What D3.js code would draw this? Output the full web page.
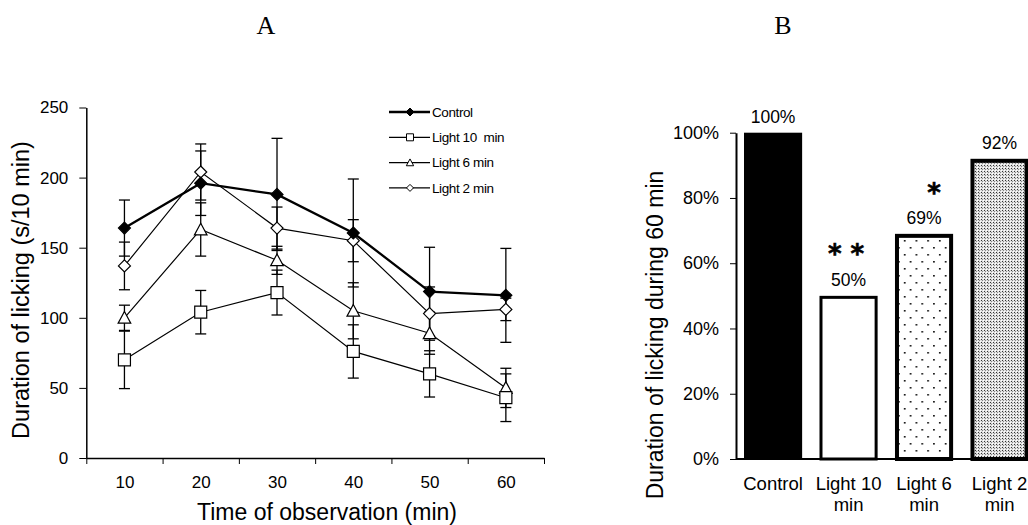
<!DOCTYPE html>
<html>
<head>
<meta charset="utf-8">
<script src="https://cdn.jsdelivr.net/npm/d3@7"></script>
<style>
  body { margin: 0; background: #fff; }
  svg { display: block; font-family: "Liberation Sans", Arial, sans-serif; }
</style>
</head>
<body>
<svg width="1028" height="525"></svg>
<script>
// panel A data: licking time per 10 min block
const times = [10, 20, 30, 40, 50, 60];
const control = [164, 196, 188, 160.5, 118.7, 116];
const controlErr = [20, 23, 40, 38.5, 31.6, 33.5];
const light10 = [70, 104, 118, 76, 60, 43];
const light10Err = [20.5, 15.5, 16, 19, 16.5, 17];
const light6 = [100, 163, 141, 105, 89, 50];
const light6Err = [9, 19, 10, 20, 15, 14];
const light2 = [137, 204, 164, 155, 103, 106];
const light2Err = [17, 20, 15, 15, 19, 8];
const yTicksA = [0, 50, 100, 150, 200, 250];

// panel B data: % of control over 60 min
const barCats = ['Control', 'Light 10 min', 'Light 6 min', 'Light 2 min'];
const barLines = [['Control'], ['Light 10', 'min'], ['Light 6', 'min'], ['Light 2', 'min']];
const barValues = [1.00, 0.50, 0.69, 0.92];
const barStars = ['', '**', '*', ''];
const yTicksB = [0, 0.2, 0.4, 0.6, 0.8, 1.0];

const svg = d3.select('svg');

// patterns for the bars
const defs = svg.append('defs');
const dots = defs.append('pattern').attr('id', 'dots')
  .attr('patternUnits', 'userSpaceOnUse').attr('width', 11.7).attr('height', 14);
dots.append('rect').attr('width', 11.7).attr('height', 14).attr('fill', '#fff');
dots.append('rect').attr('x', 3).attr('y', 2).attr('width', 1.6).attr('height', 1.6).attr('fill', '#000');
dots.append('rect').attr('x', 8.85).attr('y', 9).attr('width', 1.6).attr('height', 1.6).attr('fill', '#000');

const fine = defs.append('pattern').attr('id', 'fine')
  .attr('patternUnits', 'userSpaceOnUse').attr('width', 3).attr('height', 3);
fine.append('rect').attr('width', 3).attr('height', 3).attr('fill', '#e0e0e0');
fine.append('rect').attr('width', 1).attr('height', 1).attr('fill', '#333');
fine.append('rect').attr('x', 1).attr('y', 1).attr('width', 1).attr('height', 1).attr('fill', '#888');
fine.append('rect').attr('x', 2).attr('y', 2).attr('width', 1).attr('height', 1).attr('fill', '#fff');

// ---------- panel A ----------
const x = d3.scaleLinear().domain([5, 65]).range([86.3, 544]);
const y = d3.scaleLinear().domain([0, 250]).range([458, 107.5]);

const gA = svg.append('g');

gA.append('g').attr('transform', `translate(0,${y(0)})`)
  .call(d3.axisBottom(x).tickValues([5, 15, 25, 35, 45, 55, 65]).tickFormat('').tickSizeInner(6).tickSizeOuter(0))
  .call(g => g.select('.domain').attr('stroke-width', 1.5));
gA.append('g').attr('transform', `translate(0,${y(0)})`)
  .call(d3.axisBottom(x).tickValues(times).tickSize(0).tickPadding(18))
  .call(g => g.select('.domain').remove())
  .selectAll('text').attr('font-size', 17).attr('font-family', 'Liberation Sans');

gA.append('g').attr('transform', `translate(${x(5)},0)`)
  .call(d3.axisLeft(y).tickValues(yTicksA).tickSizeInner(7).tickSizeOuter(0).tickPadding(11))
  .call(g => g.select('.domain').attr('stroke-width', 1.5))
  .selectAll('text').attr('font-size', 17).attr('font-family', 'Liberation Sans');

gA.append('text').attr('x', 327).attr('y', 520).attr('text-anchor', 'middle')
  .attr('font-size', 23).text('Time of observation (min)');
gA.append('text').attr('transform', 'translate(29,290) rotate(-90)').attr('text-anchor', 'middle')
  .attr('font-size', 23.5).text('Duration of licking (s/10 min)');

// marker shapes
const shapes = {
  diamond: s => `M0,${-s}L${s},0L0,${s}L${-s},0Z`,
  square: s => `M${-s},${-s}H${s}V${s}H${-s}Z`,
  triangle: s => `M0,${-s * 1.05}L${s * 1.05},${s * 0.9}L${-s * 1.05},${s * 0.9}Z`
};

const series = [
  { name: 'Control', vals: control, err: controlErr, shape: 'diamond', fill: '#000', lw: 2.3, size: 6 },
  { name: 'Light 10  min', vals: light10, err: light10Err, shape: 'square', fill: '#fff', lw: 1.2, size: 6 },
  { name: 'Light 6 min', vals: light6, err: light6Err, shape: 'triangle', fill: '#fff', lw: 1.2, size: 6 },
  { name: 'Light 2 min', vals: light2, err: light2Err, shape: 'diamond', fill: '#fff', lw: 1.2, size: 6 }
];

// error bars
series.forEach(s => {
  const eb = gA.append('g').attr('stroke', '#000').attr('stroke-width', 1.3);
  times.forEach((t, i) => {
    const cx = x(t), lo = y(s.vals[i] - s.err[i]), hi = y(s.vals[i] + s.err[i]);
    eb.append('line').attr('x1', cx).attr('x2', cx).attr('y1', lo).attr('y2', hi);
    eb.append('line').attr('x1', cx - 5.5).attr('x2', cx + 5.5).attr('y1', lo).attr('y2', lo);
    eb.append('line').attr('x1', cx - 5.5).attr('x2', cx + 5.5).attr('y1', hi).attr('y2', hi);
  });
});

const line = d3.line().x((d, i) => x(times[i])).y(d => y(d));
series.slice().reverse().forEach(s => {
  gA.append('path').datum(s.vals).attr('d', line)
    .attr('fill', 'none').attr('stroke', '#000').attr('stroke-width', s.lw);
});
series.slice().reverse().forEach(s => {
  gA.append('g').selectAll('path').data(s.vals).join('path')
    .attr('transform', (d, i) => `translate(${x(times[i])},${y(d)})`)
    .attr('d', shapes[s.shape](s.size))
    .attr('fill', s.fill).attr('stroke', '#000').attr('stroke-width', 1.2);
});

// legend
const leg = gA.append('g');
series.forEach((s, i) => {
  const ly = 112 + i * 25.3;
  leg.append('line').attr('x1', 389).attr('x2', 430).attr('y1', ly).attr('y2', ly)
    .attr('stroke', '#000').attr('stroke-width', s.lw);
  leg.append('path').attr('transform', `translate(410,${ly})`)
    .attr('d', shapes[s.shape](i === 0 ? 4 : 3.5))
    .attr('fill', s.fill).attr('stroke', '#000').attr('stroke-width', 1);
  leg.append('text').attr('x', 432).attr('y', ly).attr('dy', '0.35em')
    .attr('font-size', 13.5).attr('letter-spacing', -0.4).attr('xml:space', 'preserve').text(s.name);
});

svg.append('text').attr('x', 266).attr('y', 34).attr('text-anchor', 'middle')
  .attr('font-family', 'Liberation Serif').attr('font-size', 26).text('A');

// ---------- panel B ----------
const xb = d3.scaleBand().domain(barCats).range([736, 1036.6]).paddingInner(0.23).paddingOuter(0.106);
const yb = d3.scaleLinear().domain([0, 1]).range([459, 132.7]);
const gB = svg.append('g');

const fills = ['#000', '#fff', 'url(#dots)', 'url(#fine)'];
const strokeW = [0, 3, 4, 4];
gB.selectAll('rect.bar').data(barValues).join('rect').attr('class', 'bar')
  .attr('x', (d, i) => xb(barCats[i]) + strokeW[i] / 2)
  .attr('width', (d, i) => xb.bandwidth() - strokeW[i])
  .attr('y', (d, i) => yb(d) + strokeW[i] / 2)
  .attr('height', (d, i) => yb(0) - yb(d) - strokeW[i] / 2)
  .attr('fill', (d, i) => fills[i])
  .attr('stroke', '#000').attr('stroke-width', (d, i) => strokeW[i]);

gB.append('g').attr('transform', `translate(${xb.range()[0]},0)`)
  .call(d3.axisLeft(yb).tickValues(yTicksB).tickFormat(d3.format('.0%')).tickSizeInner(6).tickSizeOuter(0).tickPadding(11))
  .call(g => g.select('.domain').attr('stroke-width', 2))
  .selectAll('text').attr('font-size', 18).attr('font-family', 'Liberation Sans');
gB.append('line').attr('x1', 736).attr('x2', 1028).attr('y1', yb(0)).attr('y2', yb(0))
  .attr('stroke', '#000').attr('stroke-width', 2);

gB.selectAll('text.val').data(barValues).join('text').attr('class', 'val')
  .attr('x', (d, i) => xb(barCats[i]) + xb.bandwidth() / 2)
  .attr('y', d => yb(d) - 16).attr('dy', '0.35em')
  .attr('text-anchor', 'middle').attr('font-size', 17.5)
  .text(d3.format('.0%'));

// significance marks sit above the value labels
gB.selectAll('text.star').data(barStars).join('text').attr('class', 'star')
  .attr('x', (d, i) => xb(barCats[i]) + xb.bandwidth() / 2 + (d === '*' ? 10 : 2))
  .attr('y', (d, i) => yb(barValues[i]) - (d === '*' ? 32 : 33))
  .attr('text-anchor', 'middle').attr('font-family', 'DejaVu Sans').attr('font-weight', 'bold')
  .attr('font-size', 26).attr('letter-spacing', (d) => d.length > 1 ? 9 : 0)
  .attr('stroke', '#000').attr('stroke-width', 0.6)
  .text(d => d);

barLines.forEach((lines, i) => {
  const t = gB.append('text').attr('text-anchor', 'middle').attr('font-size', 18.5)
    .attr('x', xb(barCats[i]) + xb.bandwidth() / 2).attr('y', 490);
  lines.forEach((l, j) => t.append('tspan').attr('x', xb(barCats[i]) + xb.bandwidth() / 2)
    .attr('dy', j ? 21 : 0).text(l));
});

gB.append('text').attr('transform', 'translate(663,335) rotate(-90)').attr('text-anchor', 'middle')
  .attr('font-size', 23).text('Duration of licking during 60 min');

svg.append('text').attr('x', 783).attr('y', 34).attr('text-anchor', 'middle')
  .attr('font-family', 'Liberation Serif').attr('font-size', 26).text('B');
</script>
</body>
</html>
